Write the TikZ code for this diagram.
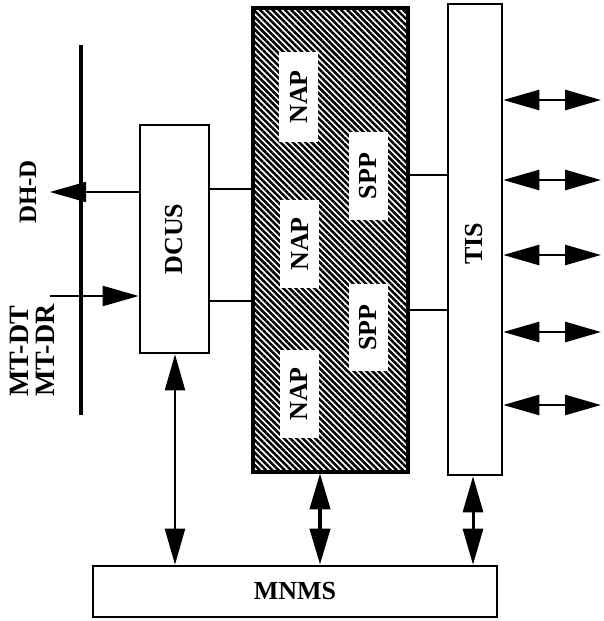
\documentclass[tikz,border=0pt]{standalone}
\usepackage{fontspec}
\setmainfont{Liberation Serif}
\usetikzlibrary{arrows.meta,patterns.meta}
\newcommand{\rt}[1]{\rotatebox{90}{#1}}
\begin{document}
\begin{tikzpicture}[x=1pt,y=-1pt,
  txt/.style={font=\fontsize{26}{28}\selectfont\bfseries},
  box/.style={draw, line width=2.6pt, fill=white, inner sep=0pt, txt},
  inbox/.style={fill=white, inner sep=0pt, txt, minimum width=39pt},
  onearr/.style={line width=2pt, -{Triangle[length=36pt,width=20pt]}},
  twoarr/.style={{Triangle[length=36pt,width=20pt]}-{Triangle[length=36pt,width=20pt]}},
  thin/.style={line width=1.8pt}]
\useasboundingbox (0,0) rectangle (604,621);
% bus
\coordinate (busT) at (81,45);
\coordinate (busB) at (81,415);
\draw[line width=4pt] (busT) -- (busB);
% boxes
\node[box, minimum width=69pt, minimum height=228pt] (dcus) at (174.5,239) {\rt{DCUS}};
\node[draw, line width=3.5pt, minimum width=155pt, minimum height=464pt, inner sep=0pt,
  pattern={Lines[angle=-45, distance=4.4pt, line width=2.5pt]}] (hatch) at (330.5,240) {};
\node[inbox, minimum height=90pt] (nap1) at (298.5,97) {\rt{NAP}};
\node[inbox, minimum height=88pt] (nap2) at (299.5,244) {\rt{NAP}};
\node[inbox, minimum height=88pt] (nap3) at (299,394) {\rt{NAP}};
\node[inbox, minimum height=88pt] (spp1) at (368.5,176) {\rt{SPP}};
\node[inbox, minimum height=87pt] (spp2) at (368,327.5) {\rt{SPP}};
\node[box, minimum width=54pt, minimum height=471pt] (tis) at (475,239.5) {};
\node[txt] (tislbl) at (474,244) {\rt{TIS}};
\node[box, minimum width=404pt, minimum height=51pt] (mnms) at (295,591.5) {MNMS};
% labels
\node[font=\fontsize{25}{27}\selectfont\bfseries] (dhd) at (28,192) {\rt{DH-D}};
\node[font=\fontsize{28}{24}\selectfont\bfseries, anchor=south, inner sep=0pt] (mtd) at (36,397)
  {\rt{\begin{tabular}{@{}l@{}}MT-DT\\MT-DR\end{tabular}}};
% left arrows
\coordinate (dhdtip) at (50,192);
\coordinate (mtdst) at (50,296);
\draw[onearr] (dhdtip -| dcus.west) -- (dhdtip);
\draw[onearr] (mtdst) -- (mtdst -| dcus.west);
% DCUS to hatched
\coordinate (c1) at (0,189);
\coordinate (c2) at (0,301);
\draw[thin] (c1 -| dcus.east) -- (c1 -| hatch.west);
\draw[thin] (c2 -| dcus.east) -- (c2 -| hatch.west);
% hatched to TIS
\coordinate (t1) at (0,175);
\coordinate (t2) at (0,310);
\draw[thin] (t1 -| hatch.east) -- (t1 -| tis.west);
\draw[thin] (t2 -| hatch.east) -- (t2 -| tis.west);
% right double arrows
\foreach \i/\y in {1/100,2/180,3/255,4/332,5/405}{
  \coordinate (r\i) at (601,\y);
  \draw[twoarr, line width=2.6pt] (r\i -| tis.east) -- (r\i);
}
% to MNMS
\coordinate (m1) at (175,0);
\coordinate (m2) at (320,0);
\coordinate (m3) at (473,0);
\draw[twoarr, line width=2pt] (m1 |- dcus.south) -- (m1 |- mnms.north);
\draw[twoarr, line width=4pt] (m2 |- hatch.south) -- (m2 |- mnms.north);
\draw[twoarr, line width=3pt] (m3 |- tis.south) -- (m3 |- mnms.north);
\end{tikzpicture}
\end{document}
